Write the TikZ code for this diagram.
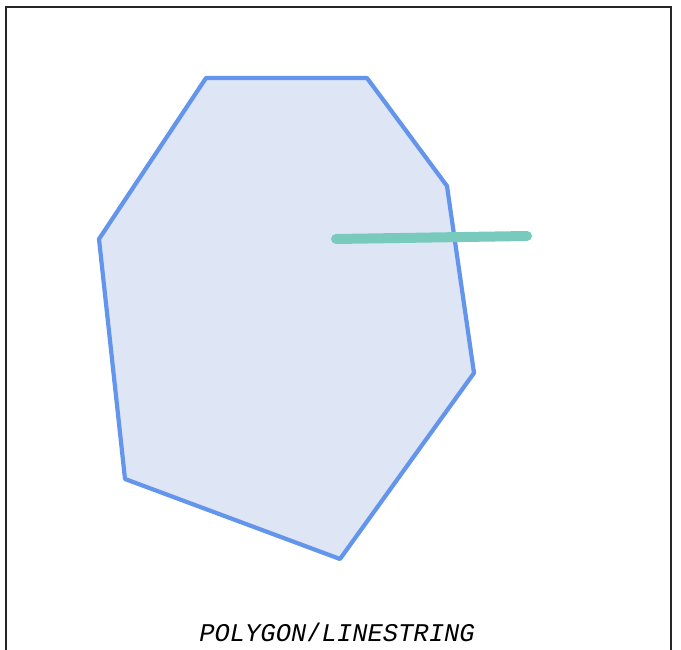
\documentclass[tikz,border=0pt]{standalone}
\usepackage{fontspec}
\setmonofont{Liberation Mono}
\usepackage{xcolor}
\usetikzlibrary{positioning}
\definecolor{polyblue}{RGB}{100, 149, 237}
\definecolor{polyfill}{RGB}{222, 229, 245}
\definecolor{lineteal}{RGB}{120, 202, 188}

\begin{document}
\begin{tikzpicture}[x=1pt, y=-1pt,
    framebox/.style={draw=black!85, line width=1.6pt},
    polyshape/.style={draw=polyblue, fill=polyfill, line width=4.2pt, line join=round},
    linestr/.style={draw=lineteal, line width=10pt, line cap=round},
    caption/.style={font=\fontsize{25.5}{28}\selectfont\ttfamily, inner sep=0pt, anchor=base}]

    \useasboundingbox (0,0) rectangle (681,650);

    % Frame
    \draw[framebox] (6,650) -- (6,7) -- (671,7) -- (671,650);

    % Polygon corners
    \coordinate (p1) at (206,78);
    \coordinate (p2) at (367,78);
    \coordinate (p3) at (447,186);
    \coordinate (p4) at (474,373);
    \coordinate (p5) at (340,559);
    \coordinate (p6) at (125,479);
    \coordinate (p7) at (99,239);
    \draw[polyshape] (p1) -- (p2) -- (p3) -- (p4) -- (p5) -- (p6) -- (p7) -- cycle;

    % Linestring
    \coordinate (l1) at (336,239);
    \coordinate (l2) at (527,236);
    \draw[linestr] (l1) -- (l2);

    % Caption
    \node[caption] (label) at (337,641) {\itshape POLYGON\upshape/\itshape LINESTRING};
\end{tikzpicture}
\end{document}
